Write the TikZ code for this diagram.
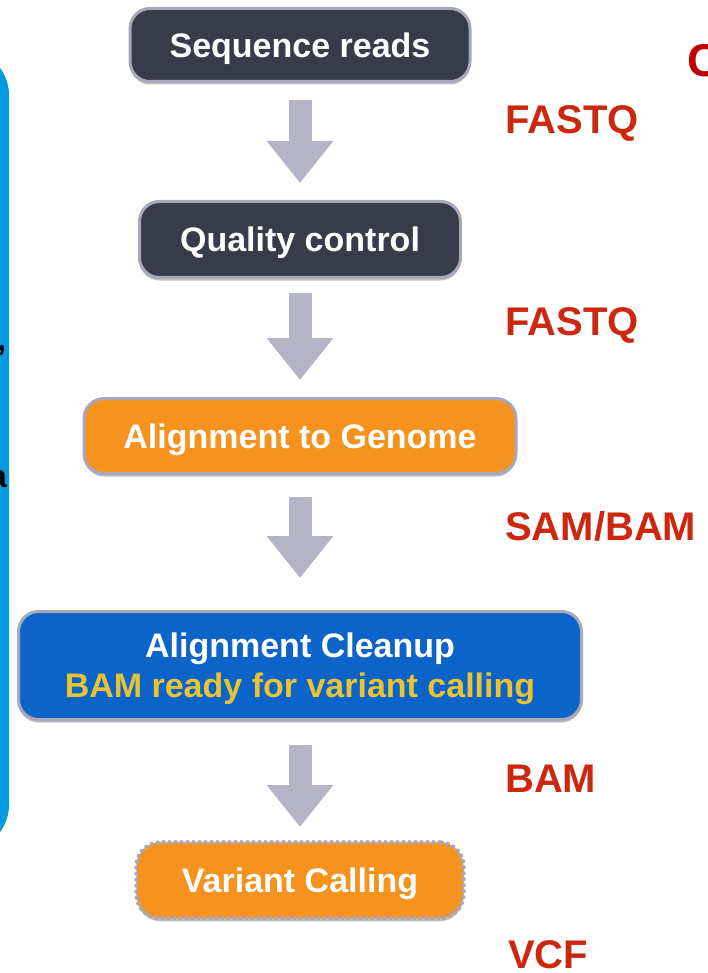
\documentclass[tikz,border=0pt]{standalone}
\usepackage{fontspec}
\setmainfont{Liberation Sans}
\usetikzlibrary{
  arrows.meta,
  positioning,
  shadows
}
\definecolor{wfDark}{RGB}{55,59,74}
\definecolor{wfOrange}{RGB}{246,146,30}
\definecolor{wfBlue}{RGB}{12,100,200}
\definecolor{wfYellow}{RGB}{232,196,52}
\definecolor{wfRim}{RGB}{168,168,184}
\definecolor{wfArrow}{RGB}{180,180,198}
\definecolor{wfRed}{RGB}{204,40,16}
\definecolor{wfCrimson}{RGB}{192,0,0}
\definecolor{wfPanel}{RGB}{0,155,222}
\tikzset{
  wfbox/.style={
    draw=wfRim,
    line width=3pt,
    rounded corners=20pt,
    align=center,
    text=white,
    text depth=0pt,
    inner xsep=8pt,
    inner ysep=3pt,
    font=\bfseries\fontsize{34}{40}\selectfont,
    drop shadow={shadow xshift=0pt, shadow yshift=-3pt, opacity=.25, fill=black}
  },
  wfarrow/.style={
    -{Triangle[length=42pt,width=64pt]},
    line width=23pt,
    draw=wfArrow,
    shorten <=17pt,
    shorten >=17pt
  },
  fmtlabel/.style={
    anchor=base west,
    inner sep=0pt,
    text depth=0pt,
    text=wfRed,
    font=\bfseries\fontsize{40}{48}\selectfont
  }
}

\begin{document}
\begin{tikzpicture}[x=1pt, y=-1pt]
  \useasboundingbox (0,0) rectangle (707,973);
  \clip (0,0) rectangle (707,973);

  % side panel, cut by the page edge
  \fill[wfPanel, rounded corners=45pt] (-60,50) rectangle (9,850);
  \node[anchor=base west, inner sep=0pt, font=\bfseries\fontsize{32}{38}\selectfont] (comma) at (-3,350) {,};
  \node[anchor=base east, inner sep=0pt, font=\bfseries\fontsize{32}{38}\selectfont] (cuta) at (7,487) {a};

  \node[wfbox, fill=wfDark, minimum width=340pt, minimum height=73pt] (seq) at (300,45)
    {Sequence reads};
  \node[wfbox, fill=wfDark, below=117pt of seq, minimum width=321pt, minimum height=76pt] (qc)
    {Quality control};
  \node[wfbox, fill=wfOrange, below=118pt of qc, minimum width=432pt, minimum height=75pt] (align)
    {Alignment to Genome};
  \node[wfbox, fill=wfBlue, below=135pt of align, minimum width=563pt, minimum height=108pt] (cleanup)
    {Alignment Cleanup\\{\color{wfYellow}BAM ready for variant calling}};
  \node[wfbox, fill=wfOrange, below=119pt of cleanup, minimum width=327pt, minimum height=76pt,
    rounded corners=24pt, line width=4.5pt, line cap=round, dash pattern=on 0pt off 6pt] (call)
    {Variant Calling};

  \draw[wfarrow] (seq) -- (qc);
  \draw[wfarrow, shorten <=14pt] (qc) -- (align);
  \draw[wfarrow, shorten <=22pt, shorten >=32pt] (align) -- (cleanup);
  \draw[wfarrow, shorten <=24pt, shorten >=13pt] (cleanup) -- (call);

  \node[fmtlabel] (fq1) at (505,134) {FASTQ};
  \node[fmtlabel] (fq2) at (505,335) {FASTQ};
  \node[fmtlabel] (sam) at (505,540) {SAM/BAM};
  \node[fmtlabel] (bam) at (505,792) {BAM};
  \node[fmtlabel] (vcf) at (508,968) {VCF};

  \node[anchor=base west, inner sep=0pt, text=wfCrimson, font=\bfseries\fontsize{46}{54}\selectfont] (cut)
    at (687,77) {C};
\end{tikzpicture}
\end{document}
